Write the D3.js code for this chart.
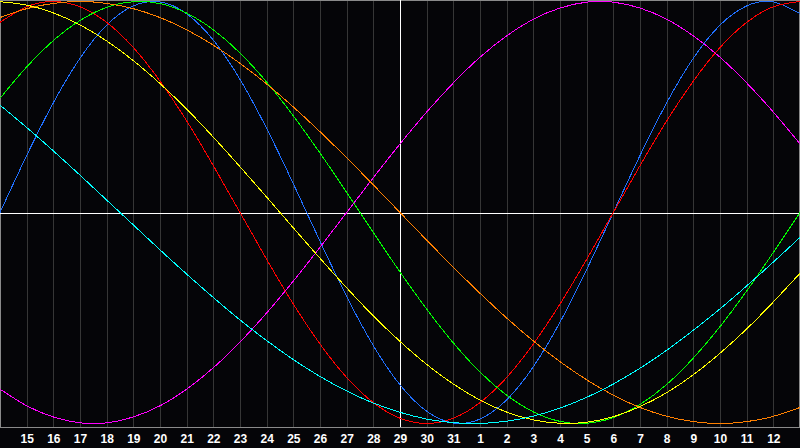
<!DOCTYPE html>
<html>
<head>
<meta charset="utf-8">
<script src="https://cdn.jsdelivr.net/npm/d3@7"></script>
<style>
html,body{margin:0;padding:0;background:#050508;}
svg{display:block;}
</style>
</head>
<body>
<svg id="chart" width="800" height="448"></svg>
<script>
// Day-of-month for each column (index 0 at left edge, 30 at right edge)
const days = [14,15,16,17,18,19,20,21,22,23,24,25,26,27,28,29,30,31,1,2,3,4,5,6,7,8,9,10,11,12,13];
const tickLabels = days.slice(1, 30);
const todayIndex = 15; // day 29 — vertical white marker

// Cycle values in percent (-100..100), one per day column
const physical     = [0,27.0,52.0,73.1,88.8,97.9,99.8,94.2,81.7,63.1,39.8,13.6,-13.6,-39.8,-63.1,-81.7,-94.2,-99.8,-97.9,-88.8,-73.1,-52.0,-27.0,0,27.0,52.0,73.1,88.8,97.9,99.8,94.2];
const emotional    = [90.1,97.5,100,97.5,90.1,78.2,62.3,43.4,22.2,0,-22.2,-43.4,-62.3,-78.2,-90.1,-97.5,-100,-97.5,-90.1,-78.2,-62.3,-43.4,-22.2,0,22.2,43.4,62.3,78.2,90.1,97.5,100];
const intellectual = [54.1,69.0,81.5,91.0,97.2,99.9,99.0,94.5,86.6,75.6,61.8,45.8,28.2,9.5,-9.5,-28.2,-45.8,-61.8,-75.6,-86.6,-94.5,-99.0,-99.9,-97.2,-91.0,-81.5,-69.0,-54.1,-37.2,-18.9,0];
const intuitive    = [-83.7,-91.6,-96.9,-99.7,-99.7,-96.9,-91.6,-83.7,-73.6,-61.4,-47.6,-32.5,-16.5,0,16.5,32.5,47.6,61.4,73.6,83.7,91.6,96.9,99.7,99.7,96.9,91.6,83.7,73.6,61.4,47.6,32.5];
const aesthetic    = [99.9,98.3,94.6,88.9,81.3,72.0,61.1,49.0,35.7,21.7,7.3,-7.3,-21.7,-35.7,-49.0,-61.1,-72.0,-81.3,-88.9,-94.6,-98.3,-99.9,-99.4,-96.8,-92.0,-85.4,-76.9,-66.7,-55.2,-42.4,-28.8];
const awareness    = [92.4,96.6,99.1,100,99.1,96.6,92.4,86.6,79.3,70.7,60.9,50.0,38.3,25.9,13.1,0,-13.1,-25.9,-38.3,-50.0,-60.9,-70.7,-79.3,-86.6,-92.4,-96.6,-99.1,-100,-99.1,-96.6,-92.4];
const spiritual    = [50.9,40.3,29.2,17.7,5.9,-5.9,-17.7,-29.2,-40.3,-50.9,-60.7,-69.7,-77.7,-84.6,-90.3,-94.7,-97.9,-99.6,-100,-98.9,-96.5,-92.7,-87.6,-81.3,-73.8,-65.3,-55.8,-45.7,-34.8,-23.5,-11.8];

const seriesNames  = ["physical","emotional","intellectual","intuitive","aesthetic","awareness","spiritual"];
const seriesValues = [physical, emotional, intellectual, intuitive, aesthetic, awareness, spiritual];
const seriesColors = ["#2070ff","#ff0000","#00ff00","#ff00ff","#ffff00","#ff8000","#00ffff"];

const W = 800, H = 448, plotBottom = 427;
const svg = d3.select("#chart");

const x = d3.scaleLinear().domain([0, days.length - 1]).range([0, W]);
const y = d3.scaleLinear().domain([-100, 100]).range([423.5, 1.5]);

svg.append("rect").attr("x",0).attr("y",0).attr("width",W).attr("height",H).attr("fill","#050508");

// vertical day gridlines
svg.append("g")
  .selectAll("line")
  .data(d3.range(1, days.length - 1))
  .join("line")
  .attr("x1", d => Math.round(x(d)) + 0.5)
  .attr("x2", d => Math.round(x(d)) + 0.5)
  .attr("y1", 0).attr("y2", plotBottom)
  .attr("stroke", "#363636").attr("stroke-width", 1);

// frame
svg.append("rect").attr("x",0.5).attr("y",0.5).attr("width",W-1).attr("height",plotBottom)
  .attr("fill","none").attr("stroke","#8a8a8a").attr("stroke-width",1);

// centre lines
svg.append("line").attr("x1",0).attr("x2",W)
  .attr("y1", Math.round(y(0)) + 0.5).attr("y2", Math.round(y(0)) + 0.5)
  .attr("stroke","#ffffff").attr("stroke-width",1);
svg.append("line")
  .attr("x1", Math.round(x(todayIndex)) + 0.5).attr("x2", Math.round(x(todayIndex)) + 0.5)
  .attr("y1",0).attr("y2",plotBottom)
  .attr("stroke","#ffffff").attr("stroke-width",1);

// curves
const line = d3.line()
  .x((d,i) => x(i))
  .y(d => y(d))
  .curve(d3.curveNatural);

svg.append("g")
  .selectAll("path")
  .data(seriesValues)
  .join("path")
  .attr("d", d => line(d))
  .attr("fill","none")
  .attr("stroke", (d,i) => seriesColors[i])
  .attr("stroke-width", 1)
  .attr("shape-rendering", "crispEdges");

// axis labels
const axis = d3.axisBottom(x)
  .tickValues(d3.range(1, days.length - 1))
  .tickFormat(i => tickLabels[i - 1])
  .tickSize(0)
  .tickPadding(0);
const ag = svg.append("g").attr("transform", `translate(0,${plotBottom})`).call(axis);
ag.select(".domain").remove();
ag.selectAll("text")
  .attr("y", 16)
  .attr("dy", 0)
  .attr("fill", "#ffffff")
  .attr("font-family", "'Liberation Sans', Arial, sans-serif")
  .attr("font-weight", "bold")
  .attr("font-size", 12);
</script>
</body>
</html>
